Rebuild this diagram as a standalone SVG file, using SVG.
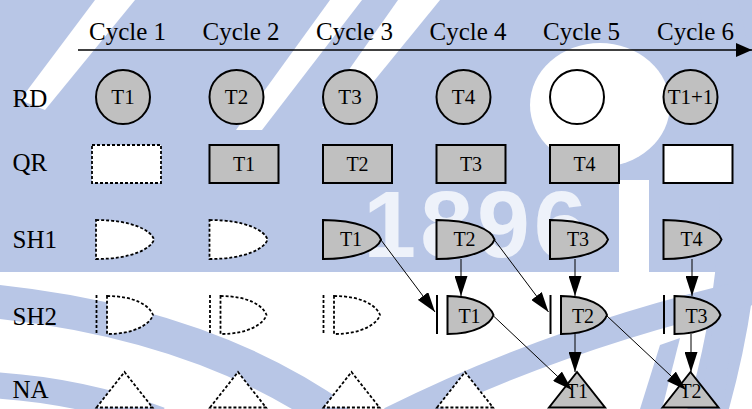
<svg xmlns="http://www.w3.org/2000/svg" width="752" height="409" viewBox="0 0 752 409">
<defs>
<style>
.t{font-family:"Liberation Serif","Times New Roman",serif;fill:#000}
.hd{font-size:25px;text-anchor:middle}
.rl{font-size:25px}
.nl{font-size:20px;text-anchor:middle}
.cl{font-size:21px;text-anchor:middle}
.g{fill:#c0c0c0;stroke:#000;stroke-width:2}
.w{fill:#fff;stroke:#000;stroke-width:2}
.d{fill:#fff;stroke:#000;stroke-width:1.8;stroke-dasharray:3 2}
.bar{stroke:#000;stroke-width:2}
.dbar{stroke:#000;stroke-width:1.8;stroke-dasharray:3 2}
.c{stroke:#000;stroke-width:1;fill:none;marker-end:url(#ah)}
.wm{fill:#b8c6e6}
.wms{fill:none;stroke:#b8c6e6}
</style>
<marker id="ah" markerUnits="userSpaceOnUse" markerWidth="20" markerHeight="13" refX="20" refY="6.5" orient="auto"><path d="M0,0 L20,6.5 L0,13 z" fill="#000"/></marker>
<marker id="axh" markerUnits="userSpaceOnUse" markerWidth="16" markerHeight="14" refX="16" refY="7" orient="auto"><path d="M0,0 L16,7 L0,14 z" fill="#000"/></marker>
<path id="sh1" d="M0,0 C35,0 55,10 58,19.5 C55,29 35,39 0,39 Z"/>
<path id="sh2" d="M11,0 C39,0 54,10 57,19 C54,28 39,38 11,38 Z"/>
<polygon id="tri" points="0.5,35.5 28.5,0 56.5,35.5"/>
</defs>
<g id="watermark">
<rect width="752" height="409" fill="#fff"/>
<rect class="wm" x="0" y="0" width="752" height="272"/>
<polygon fill="#fff" points="95,0 135,0 45,110 20,100"/>
<polygon fill="#fff" points="330,0 362,0 262,130 236,130"/>
<polygon fill="#fff" points="398,0 440,0 352,108 322,108"/>
<ellipse fill="#fff" cx="600" cy="105" rx="70" ry="62"/>
<rect fill="#fff" x="619" y="180" width="30" height="92"/>
<text x="477" y="257" font-family="Liberation Sans, Arial, sans-serif" font-size="95" font-weight="bold" letter-spacing="4" fill="#eef2fa" text-anchor="middle">1896</text>
<path class="wms" stroke-width="34" d="M-20,300 Q200,320 340,420"/>
<path class="wms" stroke-width="26" d="M-10,385 Q80,390 160,420"/>
<path class="wms" stroke-width="40" d="M715,-10 Q770,200 705,420"/>
<path class="wms" stroke-width="26" d="M390,420 Q560,335 760,290"/>
<polygon class="wm" points="640,409 660,345 680,338 662,409"/>
<polygon class="wm" points="700,409 712,330 732,325 724,409"/>
</g>
<g id="axis">
<line x1="78" y1="50" x2="752" y2="50" stroke="#000" stroke-width="1.4" marker-end="url(#axh)"/>
<text class="t hd" x="127.5" y="40">Cycle 1</text>
<text class="t hd" x="241" y="40">Cycle 2</text>
<text class="t hd" x="354.5" y="40">Cycle 3</text>
<text class="t hd" x="468" y="40">Cycle 4</text>
<text class="t hd" x="581.5" y="40">Cycle 5</text>
<text class="t hd" x="695.5" y="40">Cycle 6</text>
</g>
<g id="row-labels">
<text class="t rl" x="12.5" y="107">RD</text>
<text class="t rl" x="12.5" y="171">QR</text>
<text class="t rl" x="12.5" y="248">SH1</text>
<text class="t rl" x="12.5" y="325">SH2</text>
<text class="t rl" x="12.5" y="398">NA</text>
</g>
<g id="rd">
<g id="rd1"><circle class="g" cx="123" cy="97" r="27"/><text class="t cl" x="123" y="104">T1</text></g>
<g id="rd2"><circle class="g" cx="236.5" cy="97" r="27"/><text class="t cl" x="236.5" y="104">T2</text></g>
<g id="rd3"><circle class="g" cx="350" cy="97" r="27"/><text class="t cl" x="350" y="104">T3</text></g>
<g id="rd4"><circle class="g" cx="463.5" cy="97" r="27"/><text class="t cl" x="463.5" y="104">T4</text></g>
<g id="rd5"><circle class="w" cx="577" cy="97" r="27"/></g>
<g id="rd6"><circle class="g" cx="690.5" cy="97" r="27"/><text class="t cl" x="690.5" y="104">T1+1</text></g>
</g>
<g id="qr">
<g id="qr1"><rect class="d" x="92" y="145" width="69" height="38"/></g>
<g id="qr2"><rect class="g" x="209.5" y="145" width="69" height="38"/><text class="t nl" x="244" y="171">T1</text></g>
<g id="qr3"><rect class="g" x="323" y="145" width="69" height="38"/><text class="t nl" x="357.5" y="171">T2</text></g>
<g id="qr4"><rect class="g" x="436.5" y="145" width="69" height="38"/><text class="t nl" x="471" y="171">T3</text></g>
<g id="qr5"><rect class="g" x="550" y="145" width="69" height="38"/><text class="t nl" x="584.5" y="171">T4</text></g>
<g id="qr6"><rect class="w" x="663.5" y="145" width="69" height="38"/></g>
</g>
<g id="sh1row">
<g id="sh1-1"><use href="#sh1" class="d" x="96" y="220"/></g>
<g id="sh1-2"><use href="#sh1" class="d" x="209.5" y="220"/></g>
<g id="sh1-3"><use href="#sh1" class="g" x="323" y="220"/><text class="t nl" x="351" y="246">T1</text></g>
<g id="sh1-4"><use href="#sh1" class="g" x="436.5" y="220"/><text class="t nl" x="464.5" y="246">T2</text></g>
<g id="sh1-5"><use href="#sh1" class="g" x="550" y="220"/><text class="t nl" x="578" y="246">T3</text></g>
<g id="sh1-6"><use href="#sh1" class="g" x="663.5" y="220"/><text class="t nl" x="691.5" y="246">T4</text></g>
</g>
<g id="sh2row">
<g id="sh2-1"><line class="dbar" x1="96.5" y1="295" x2="96.5" y2="334"/><use href="#sh2" class="d" x="96" y="296"/></g>
<g id="sh2-2"><line class="dbar" x1="210" y1="295" x2="210" y2="334"/><use href="#sh2" class="d" x="209.5" y="296"/></g>
<g id="sh2-3"><line class="dbar" x1="323.5" y1="295" x2="323.5" y2="334"/><use href="#sh2" class="d" x="323" y="296"/></g>
<g id="sh2-4"><line class="bar" x1="437" y1="295" x2="437" y2="334"/><use href="#sh2" class="g" x="436.5" y="296"/><text class="t nl" x="469.5" y="322.5">T1</text></g>
<g id="sh2-5"><line class="bar" x1="550.5" y1="295" x2="550.5" y2="334"/><use href="#sh2" class="g" x="550" y="296"/><text class="t nl" x="583" y="322.5">T2</text></g>
<g id="sh2-6"><line class="bar" x1="664" y1="295" x2="664" y2="334"/><use href="#sh2" class="g" x="663.5" y="296"/><text class="t nl" x="696.5" y="322.5">T3</text></g>
</g>
<g id="narow">
<g id="na1"><use href="#tri" class="d" x="96" y="372"/></g>
<g id="na2"><use href="#tri" class="d" x="209.5" y="372"/></g>
<g id="na3"><use href="#tri" class="d" x="323" y="372"/></g>
<g id="na4"><use href="#tri" class="d" x="436.5" y="372"/></g>
<g id="na5"><use href="#tri" class="g" x="548.5" y="372"/><text class="t nl" x="577" y="398">T1</text></g>
<g id="na6"><use href="#tri" class="g" x="662" y="372"/><text class="t nl" x="690.5" y="398">T2</text></g>
</g>
<g id="connectors">
<line class="c" x1="461" y1="259" x2="461" y2="296"/>
<line class="c" x1="575" y1="259" x2="575" y2="296"/>
<line class="c" x1="692" y1="259" x2="692" y2="296"/>
<line class="c" x1="575" y1="334" x2="575" y2="372"/>
<line class="c" x1="691" y1="334" x2="691" y2="372"/>
<line class="c" x1="381" y1="240" x2="435" y2="312"/>
<line class="c" x1="494.5" y1="240" x2="548.5" y2="312"/>
<line class="c" x1="493.5" y1="316" x2="572" y2="390"/>
<line class="c" x1="607" y1="316" x2="686" y2="390"/>
</g>
</svg>
